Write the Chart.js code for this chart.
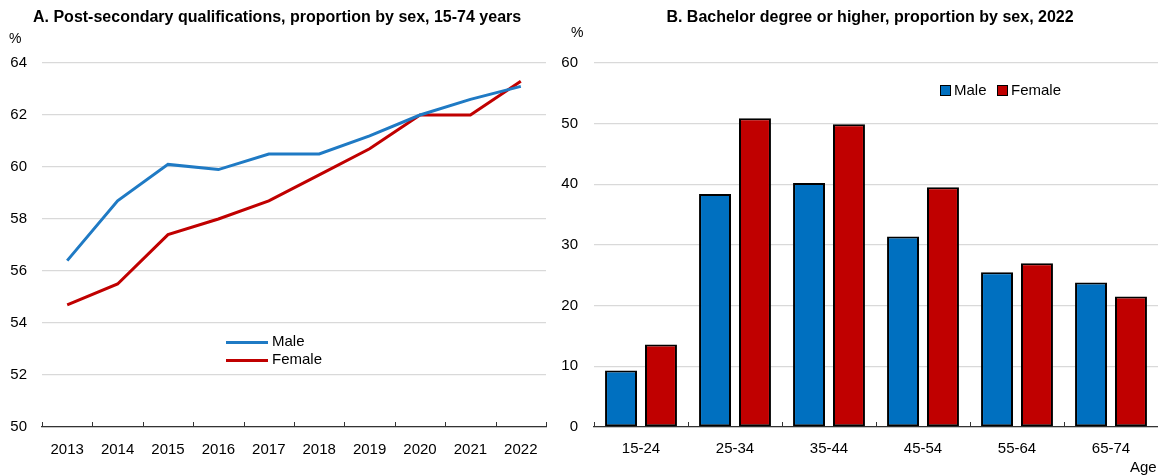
<!DOCTYPE html>
<html>
<head>
<meta charset="UTF-8">
<title></title>
<style>
body{margin:0;background:#fff;}
#wrap{position:relative;width:1158px;height:476px;overflow:hidden;font-family:'Liberation Sans Narrow','Arial Narrow','Liberation Sans',sans-serif;color:#000;}
.pane{position:absolute;top:0;height:476px;}
.title{position:absolute;top:8px;font-weight:bold;font-size:16px;white-space:nowrap;}
.unit{position:absolute;font-size:14px;}
.leg{position:absolute;font-size:15px;white-space:nowrap;line-height:18px;}
.sw-line{display:inline-block;width:42px;height:3px;vertical-align:middle;margin-right:4px;}
.sw-box{display:inline-block;width:9px;height:9px;border:1px solid #000;vertical-align:middle;margin-right:3px;margin-top:-2px;}
</style>
</head>
<body>
<div id="wrap">
	<div class="pane" style="left:0;width:560px;"><canvas id="chartA" width="560" height="476"></canvas></div>
	<div class="pane" style="left:560px;width:598px;"><canvas id="chartB" width="598" height="476"></canvas></div>

	<div class="title" style="left:33px;">A. Post-secondary qualifications, proportion by sex, 15-74 years</div>
	<div class="title" style="left:870px;transform:translateX(-50%);">B. Bachelor degree or higher, proportion by sex, 2022</div>
	<div class="unit" style="left:9px;top:30px;">%</div>
	<div class="unit" style="left:571px;top:24px;">%</div>

	<div class="leg" style="left:226px;top:332px;"><span class="sw-line" style="background:#1F7AC4"></span>Male</div>
	<div class="leg" style="left:226px;top:350px;"><span class="sw-line" style="background:#C00000"></span>Female</div>

	<div class="leg" style="left:940px;top:81px;"><span class="sw-box" style="background:#0070C0"></span>Male</div>
	<div class="leg" style="left:997px;top:81px;"><span class="sw-box" style="background:#C00000"></span>Female</div>

	<div class="leg" style="left:1130px;top:458px;">Age</div>
</div>
<script src="https://cdn.jsdelivr.net/npm/chart.js@4.4.0/dist/chart.umd.min.js"></script>
<script>
	// panel A: post-secondary qualifications, %
	var years = ['2013','2014','2015','2016','2017','2018','2019','2020','2021','2022'];
	var maleA = [56.4, 58.7, 60.1, 59.9, 60.5, 60.5, 61.2, 62.0, 62.6, 63.1];
	var femaleA = [54.7, 55.5, 57.4, 58.0, 58.7, 59.7, 60.7, 62.0, 62.0, 63.3];

	// panel B: bachelor degree or higher, 2022, %
	var ageGroups = ['15-24','25-34','35-44','45-54','55-64','65-74'];
	var maleB = [9.3, 38.4, 40.2, 31.4, 25.5, 23.8];
	var femaleB = [13.6, 50.9, 49.9, 39.5, 27.0, 21.5];

	var FONT = "'Liberation Sans Narrow','Arial Narrow','Liberation Sans',sans-serif";
	Chart.defaults.font.family = FONT;
	Chart.defaults.font.size = 15;
	Chart.defaults.color = '#000';

	// little tick marks sitting on top of the x axis, at category edges
	var innerTicks = {
		id: 'innerTicks',
		afterDatasetsDraw: function(chart, args, opts){
			var xs = chart.scales.x;
			var n = opts.count || xs.ticks.length;
			var step = (xs.right - xs.left) / n;
			var ctx = chart.ctx;
			ctx.save();
			ctx.strokeStyle = '#333';
			ctx.lineWidth = 1;
			for(var i = 0; i <= n; i++){
				var x = Math.round(xs.left + i * step) + 0.5;
				ctx.beginPath();
				ctx.moveTo(x, xs.top - 5);
				ctx.lineTo(x, xs.top);
				ctx.stroke();
			}
			ctx.restore();
		}
	};

	new Chart(document.getElementById('chartA'), {
		type: 'line',
		data: {
			labels: years,
			datasets: [
				{label: 'Male', data: maleA, borderColor: '#1F7AC4', borderWidth: 3, pointRadius: 0, tension: 0},
				{label: 'Female', data: femaleA, borderColor: '#C00000', borderWidth: 3, pointRadius: 0, tension: 0}
			]
		},
		options: {
			responsive: false,
			animation: false,
			layout: {padding: {left: 0, right: 14, top: 63, bottom: 0}},
			plugins: {legend: {display: false}, tooltip: {enabled: false}, innerTicks: {count: 10}},
			scales: {
				x: {
					offset: true,
					grid: {display: false},
					border: {display: true, color: '#333', width: 1.3},
					ticks: {padding: 6, maxRotation: 0, autoSkip: false},
					afterFit: function(s){ s.height = 49; }
				},
				y: {
					min: 50, max: 64,
					grid: {color: '#D9D9D9', lineWidth: 1.3, drawTicks: false},
					border: {display: false},
					ticks: {stepSize: 2, padding: 15},
					afterFit: function(s){ s.width = 42; }
				}
			}
		},
		plugins: [innerTicks]
	});

	new Chart(document.getElementById('chartB'), {
		type: 'bar',
		data: {
			labels: ageGroups,
			datasets: [
				{label: 'Male', data: maleB, backgroundColor: '#0070C0', borderColor: '#000', borderWidth: 2, borderSkipped: false},
				{label: 'Female', data: femaleB, backgroundColor: '#C00000', borderColor: '#000', borderWidth: 2, borderSkipped: false}
			]
		},
		options: {
			responsive: false,
			animation: false,
			categoryPercentage: 0.85,
			barPercentage: 0.8,
			layout: {padding: {left: 0, right: 0, top: 63, bottom: 0}},
			plugins: {legend: {display: false}, tooltip: {enabled: false}, innerTicks: {count: 6}},
			scales: {
				x: {
					offset: true,
					grid: {display: false},
					border: {display: true, color: '#333', width: 1.3},
					ticks: {padding: 5, maxRotation: 0, autoSkip: false},
					afterFit: function(s){ s.height = 49; }
				},
				y: {
					min: 0, max: 60,
					grid: {color: '#D9D9D9', lineWidth: 1.3, drawTicks: false},
					border: {display: false},
					ticks: {stepSize: 10, padding: 16},
					afterFit: function(s){ s.width = 34; }
				}
			}
		},
		plugins: [innerTicks]
	});
</script>
</body>
</html>
